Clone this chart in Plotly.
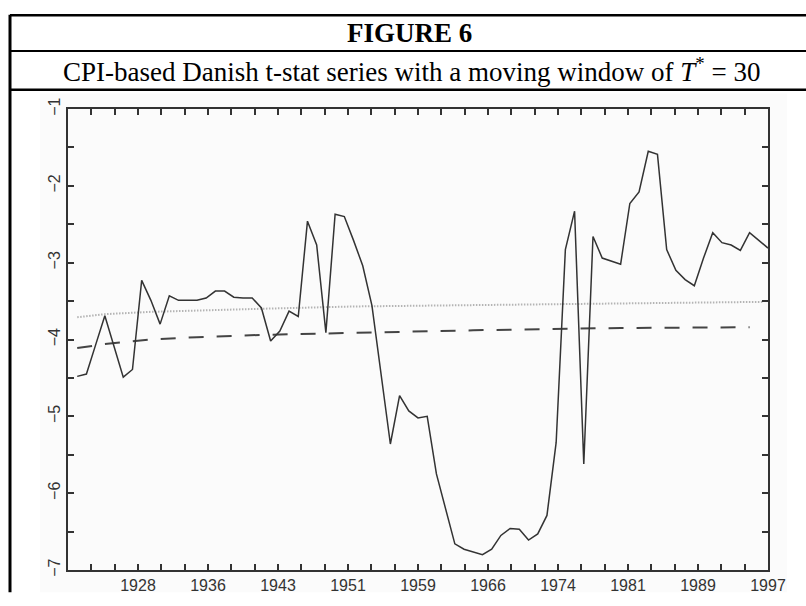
import plotly.graph_objects as go

# ---- data ----
years = list(range(1922, 1998))
tstat = [
    -4.48, -4.45, -4.07, -3.69, -4.09, -4.49, -4.39, -3.23, -3.49, -3.80,   # 1922-1931
    -3.43, -3.49, -3.49, -3.49, -3.46, -3.37, -3.37, -3.45, -3.46, -3.46,   # 1932-1941
    -3.59, -4.02, -3.89, -3.63, -3.70, -2.46, -2.77, -3.91, -2.37, -2.40,   # 1942-1951
    -2.71, -3.04, -3.56, -4.45, -5.36, -4.73, -4.93, -5.02, -5.00, -5.75,   # 1952-1961
    -6.21, -6.66, -6.73, -6.76, -6.80, -6.73, -6.55, -6.46, -6.47, -6.61,   # 1962-1971
    -6.53, -6.29, -5.34, -2.83, -2.33, -5.62, -2.66, -2.94, -2.98, -3.02,   # 1972-1981
    -2.23, -2.08, -1.55, -1.59, -2.83, -3.10, -3.22, -3.30, -2.94, -2.61,   # 1982-1991
    -2.74, -2.77, -2.84, -2.61, -2.71, -2.81,                               # 1992-1997
]

cv_years_dotted = [1922, 1925, 1930, 1935, 1942, 1952, 1965, 1981, 1996.5]
cv_dotted = [-3.71, -3.67, -3.64, -3.62, -3.60, -3.57, -3.55, -3.53, -3.51]
cv_years_dashed = [1922, 1925, 1930, 1935, 1942, 1952, 1965, 1981, 1995]
cv_dashed = [-4.11, -4.06, -4.00, -3.97, -3.94, -3.91, -3.88, -3.85, -3.84]

x_tick_labels = ["1928", "1936", "1943", "1951", "1959", "1966", "1974", "1981", "1989", "1997"]
y_ticks = [-7, -6, -5, -4, -3, -2, -1]

title_text = "<b>FIGURE 6</b>"
subtitle_text = "CPI-based Danish t-stat series with a moving window of <i>T</i><sup>*</sup> = 30"

# ---- axis geometry ----
x_start, x_end = 1921, 1997
step = (x_end - x_start) / 10
x_tickvals = [x_start + step * (k + 1) for k in range(10)]
x_minor = [x_start + step / 3 * k for k in range(31)]

W, H = 806, 606
L, R, T, B = 68, 38, 109, 23
pw, ph = W - L - R, H - T - B


def px(xp):
    return (xp - L) / pw


def py(yp):
    return (H - B - yp) / ph


fig = go.Figure()
fig.add_trace(go.Scatter(x=cv_years_dotted, y=cv_dotted, mode="lines",
                         line=dict(color="#b4b4b4", width=2, dash="1.5px,1.5px"),
                         hoverinfo="skip"))
fig.add_trace(go.Scatter(x=cv_years_dashed, y=cv_dashed, mode="lines",
                         line=dict(color="#444444", width=2, dash="15px,13px"),
                         hoverinfo="skip"))
fig.add_trace(go.Scatter(x=years, y=tstat, mode="lines",
                         line=dict(color="#333333", width=1.5)))

axis_common = dict(
    showgrid=False, zeroline=False, showline=True, linecolor="#333333", linewidth=2,
    mirror="ticks", ticks="inside", ticklen=6, tickcolor="#333333", tickwidth=1.5,
    tickfont=dict(family="Liberation Sans", size=16, color="#333333"),
)

fig.update_xaxes(range=[x_start, x_end], tickmode="array", tickvals=x_tickvals,
                 ticktext=x_tick_labels,
                 minor=dict(tickmode="array", tickvals=x_minor, ticks="inside", ticklen=6,
                            tickcolor="#333333", tickwidth=1.5),
                 **axis_common)
fig.update_yaxes(range=[-7, -1], tickmode="array", tickvals=y_ticks, tickangle=-90,
                 minor=dict(dtick=0.5, ticks="inside", ticklen=6, tickcolor="#333333",
                            tickwidth=1.5),
                 **axis_common)

shapes = [
    # faint background of the embedded chart picture
    dict(type="rect", xref="paper", yref="paper", x0=px(40), x1=px(787), y0=py(606), y1=py(93),
         fillcolor="#fbfbfb", line=dict(width=0), layer="below"),
    dict(type="line", xref="paper", yref="paper", x0=px(10), x1=px(806), y0=py(12.7), y1=py(12.7),
         line=dict(color="black", width=2.5)),
    dict(type="line", xref="paper", yref="paper", x0=px(10), x1=px(806), y0=py(49.3), y1=py(49.3),
         line=dict(color="black", width=2)),
    dict(type="line", xref="paper", yref="paper", x0=px(10), x1=px(806), y0=py(89.3), y1=py(89.3),
         line=dict(color="black", width=2.5)),
    dict(type="line", xref="paper", yref="paper", x0=px(10), x1=px(10), y0=py(12), y1=py(606),
         line=dict(color="black", width=3)),
]

annotations = [
    dict(text=title_text, xref="paper", yref="paper", x=px(409), y=py(31), showarrow=False,
         xanchor="center", yanchor="middle",
         font=dict(family="Liberation Serif", size=27, color="black")),
    dict(text=subtitle_text, xref="paper", yref="paper", x=px(411), y=py(69), showarrow=False,
         xanchor="center", yanchor="middle",
         font=dict(family="Liberation Serif", size=27, color="black")),
]

fig.update_layout(
    width=W, height=H, autosize=False,
    margin=dict(l=L, r=R, t=T, b=B, pad=0),
    paper_bgcolor="white", plot_bgcolor="rgba(0,0,0,0)",
    showlegend=False, shapes=shapes, annotations=annotations,
)

fig.write_html("out.html", config={"displayModeBar": False},
               post_script="document.body.style.margin='0';")
